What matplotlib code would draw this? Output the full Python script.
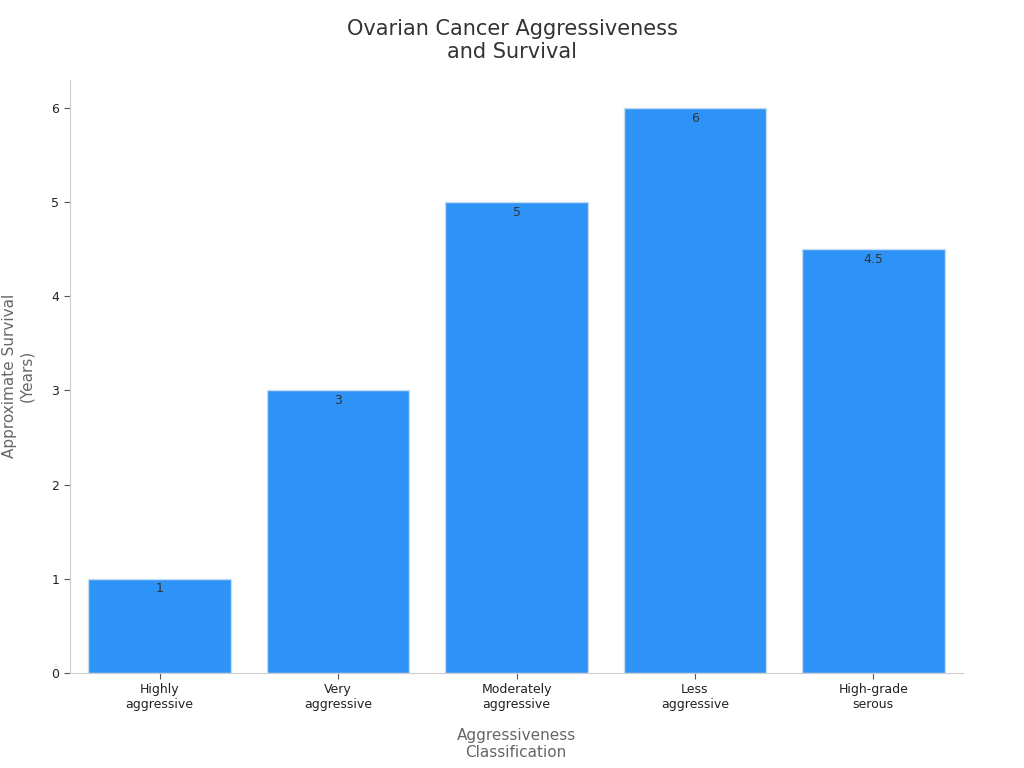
import matplotlib
matplotlib.use("Agg")
from matplotlib import pyplot as plt

# Chart data
categories = ["Highly\naggressive", "Very\naggressive", "Moderately\naggressive",
              "Less\naggressive", "High-grade\nserous"]
survival_years = [1, 3, 5, 6, 4.5]
value_labels = ["1", "3", "5", "6", "4.5"]
y_ticks = [0, 1, 2, 3, 4, 5, 6]

fig = plt.figure(figsize=(10.24, 7.68), dpi=100)
ax = fig.add_axes([0.068, 0.124, 0.872, 0.772])

x = range(len(categories))
bars = ax.bar(x, survival_years, width=0.8, color="#2E93F7",
              edgecolor="#C8DDF0", linewidth=1)

for bar, lab in zip(bars, value_labels):
    ax.text(bar.get_x() + bar.get_width() / 2, bar.get_height() - 0.04, lab,
            ha="center", va="top", fontsize=9, color="#333333")

ax.set_xticks(list(x))
ax.set_xticklabels(categories, fontsize=9, color="#222222")
ax.set_yticks(y_ticks)
ax.set_yticklabels([str(t) for t in y_ticks], fontsize=9, color="#222222")
ax.set_xlim(-0.505, 4.5)
ax.set_ylim(0, 6.3)

for side in ["top", "right"]:
    ax.spines[side].set_visible(False)
for side in ["left", "bottom"]:
    ax.spines[side].set_color("#CCCCCC")
ax.tick_params(colors="#555555", length=4)
for lbl in ax.get_xticklabels() + ax.get_yticklabels():
    lbl.set_color("#222222")

ax.set_xlabel("Aggressiveness\nClassification", fontsize=11, color="#666666", labelpad=12)
ax.set_ylabel("Approximate Survival\n(Years)", fontsize=11, color="#666666", labelpad=12)
fig.suptitle("Ovarian Cancer Aggressiveness\nand Survival", fontsize=15,
             color="#333333", x=0.5, y=0.975)

plt.savefig("out.png", dpi=100)
